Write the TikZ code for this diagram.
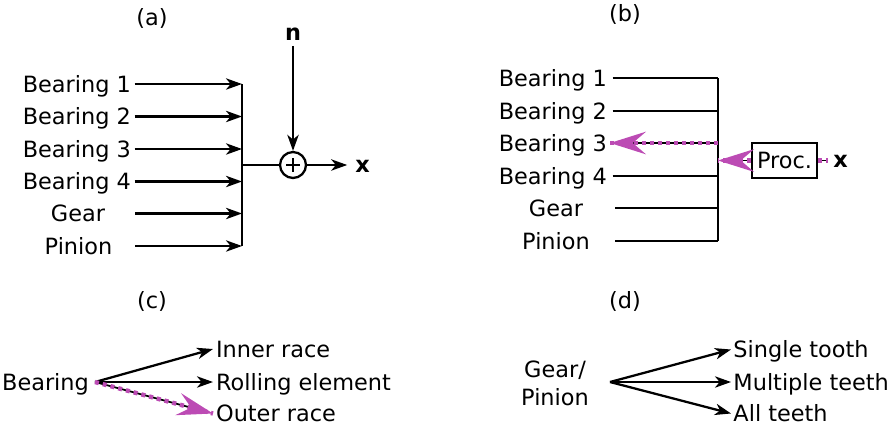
\documentclass[tikz,border=0pt]{standalone}
\usepackage{fontspec}
\setmainfont{DejaVu Sans}
\usetikzlibrary{arrows.meta}
\definecolor{mag}{RGB}{188,75,180}
\begin{document}
\begin{tikzpicture}[x=0.75pt,y=-0.75pt,
  font=\fontsize{16.8}{20}\selectfont,
  line width=1.7pt,
  lbl/.style={inner sep=0pt, text height=12.2pt, text depth=0pt},
  arr/.style={-{Stealth[length=12pt,width=8.5pt,inset=3.5pt]}},
  hl/.style={draw=black, line width=1.3pt,
    -{Stealth[length=27pt,width=17pt,inset=10pt,color=mag]},
    postaction={draw=mag, -, line width=3.3pt, dash pattern=on 3pt off 3pt}},
  hlplain/.style={draw=black, line width=1.3pt,
    postaction={draw=mag, line width=3.3pt, dash pattern=on 3pt off 3pt}},
  boxnode/.style={draw, line width=1.7pt, inner sep=0pt, minimum width=48.75pt, minimum height=26.25pt}
]
\useasboundingbox (0,0) rectangle (892,429);

% ---------------- (a) ----------------
\node[lbl] (ta) at (152,17) {(a)};
\node[lbl, anchor=east] (ab1) at (132,84) {Bearing 1};
\node[lbl, anchor=east] (ab2) at (132,116.5) {Bearing 2};
\node[lbl, anchor=east] (ab3) at (132,149) {Bearing 3};
\node[lbl, anchor=east] (ab4) at (132,181.5) {Bearing 4};
\node[lbl] (ag) at (78,213.5) {Gear};
\node[lbl] (ap) at (78.5,246) {Pinion};
\coordinate (ags) at (135,213.5);
\coordinate (aps) at (135,246);
\coordinate (ae1) at (242,84);
\coordinate (ae2) at (242,116.5);
\coordinate (ae3) at (242,149);
\coordinate (ae4) at (242,181.5);
\coordinate (ae5) at (242,213.5);
\coordinate (ae6) at (242,246);
\coordinate (abus) at (242,165);
\draw[arr] ([xshift=2pt]ab1.east) -- (ae1);
\draw[arr] ([xshift=2pt]ab2.east) -- (ae2);
\draw[arr] ([xshift=2pt]ab3.east) -- (ae3);
\draw[arr] ([xshift=2pt]ab4.east) -- (ae4);
\draw[arr] (ags) -- (ae5);
\draw[arr] (aps) -- (ae6);
\draw (ae1) -- (ae6);
\node[draw, circle, line width=1.7pt, minimum size=19.5pt, inner sep=0pt,
  path picture={\draw[line width=1.3pt] ([xshift=-5pt]path picture bounding box.center) -- ([xshift=5pt]path picture bounding box.center);
                \draw[line width=1.3pt] ([yshift=-5pt]path picture bounding box.center) -- ([yshift=5pt]path picture bounding box.center);}]
  (sum) at (293,165) {};
\node[lbl, font=\fontsize{16.8}{20}\selectfont\bfseries, inner ysep=3.5pt] (an) at (293,32) {n};
\node[lbl, font=\fontsize{16.8}{20}\selectfont\bfseries, inner xsep=5.2pt] (ax) at (362.5,164) {x};
\draw (abus) -- (sum.west);
\draw[arr] (an.south) -- (sum.north);
\draw[arr] (sum.east) -- (sum.east -| ax.west);

% ---------------- (b) ----------------
\node[lbl] (tb) at (625,13) {(b)};
\node[lbl, anchor=east] (bb1) at (608,78) {Bearing 1};
\node[lbl, anchor=east] (bb2) at (608,111) {Bearing 2};
\node[lbl, anchor=east] (bb3) at (608,143) {Bearing 3};
\node[lbl, anchor=east] (bb4) at (608,176) {Bearing 4};
\node[lbl] (bg) at (556,208) {Gear};
\node[lbl] (bp) at (556,241) {Pinion};
\coordinate (bgs) at (615,208);
\coordinate (bps) at (615,241);
\coordinate (be1) at (718,78);
\coordinate (be2) at (718,111);
\coordinate (be3) at (718,143);
\coordinate (be4) at (718,176);
\coordinate (be5) at (718,208);
\coordinate (be6) at (718,241);
\coordinate (bin) at (718,160.5);
\draw ([xshift=3.5pt]bb1.east) -- (be1);
\draw ([xshift=3.5pt]bb2.east) -- (be2);
\draw ([xshift=3.5pt]bb4.east) -- (be4);
\draw (bgs) -- (be5);
\draw (bps) -- (be6);
\draw (be1) -- (be6);
\draw[hl] (be3) -- ([xshift=1.5pt]bb3.east);
\node[boxnode] (proc) at (784.5,160.5) {Proc.};
\node[lbl, font=\fontsize{16.8}{20}\selectfont\bfseries, inner xsep=3pt] (bx) at (840.5,159) {x};
\draw[hl] (proc.west) -- (bin);
\draw[hlplain] (proc.east) -- (proc.east -| bx.west);

% ---------------- (c) ----------------
\node[lbl] (tc) at (152,300) {(c)};
\node[lbl, anchor=east] (cb) at (90,382) {Bearing};
\coordinate (co) at (95,382);
\node[lbl, anchor=west, inner xsep=1.5pt] (ci) at (213,349) {Inner race};
\node[lbl, anchor=west, inner xsep=1.5pt] (cr) at (213,382) {Rolling element};
\node[lbl, anchor=west, inner xsep=1.5pt] (cor) at (213,413.5) {Outer race};
\draw[arr] (co) -- (ci.west);
\draw[arr] (co) -- (co -| cr.west);
\draw[hl] (co) -- (cor.west);

% ---------------- (d) ----------------
\node[lbl] (td) at (625,300) {(d)};
\node[lbl] (dg) at (555,369) {Gear/};
\node[lbl] (dp) at (555,397) {Pinion};
\coordinate (dor) at (610,382);
\node[lbl, anchor=west, inner xsep=1pt] (ds) at (731,349.5) {Single tooth};
\node[lbl, anchor=west, inner xsep=1pt] (dm) at (731,382) {Multiple teeth};
\node[lbl, anchor=west, inner xsep=1pt] (da) at (731,413.5) {All teeth};
\draw[arr] (dor) -- (ds.west);
\draw[arr] (dor) -- (dor -| dm.west);
\draw[arr] (dor) -- (da.west);
\end{tikzpicture}
\end{document}
